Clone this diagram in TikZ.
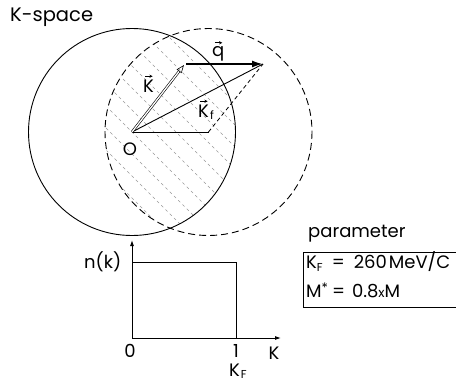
\documentclass[tikz,border=0pt]{standalone}
\usepackage{fontspec}
\setmainfont{Poppins}
\usetikzlibrary{arrows.meta}
\begin{document}
\begin{tikzpicture}[x=1pt,y=-1pt,
  txt/.style={font=\fontsize{18}{21}\selectfont, inner sep=0pt},
  subtxt/.style={font=\fontsize{11.5}{13}\selectfont, inner sep=0pt},
  circ/.style={line width=0.9pt},
  hatch/.style={black!40, line width=0.4pt, dash pattern=on 3pt off 3pt},
  vecar/.style={line width=0.7pt, -{Stealth[length=3.2pt,width=3.2pt]}},
  axis/.style={line width=0.9pt, -{Latex[length=6pt,width=4pt]}}]
\useasboundingbox (0,0) rectangle (456,383);
\coordinate (O) at (132,132);
\coordinate (P) at (208.5,132);
\coordinate (Kt) at (184,65);
\coordinate (Ks) at (186,64);
\coordinate (Qt) at (263,64);
% hatching of the lens
\begin{scope}
  \clip (O) circle (103.5);
  \clip (P) circle (103.5);
  \foreach \b in {-330,-308,...,230} \draw[hatch] (0,\b) -- (456,\b+456);
\end{scope}
\draw[circ] (O) circle (103.5);
\draw[circ, dash pattern=on 7pt off 4pt] (P) circle (103.5);
% vectors
\draw[line width=0.9pt] (O) -- (P);
\draw[line width=0.8pt, dash pattern=on 4pt off 3pt] (P) -- (Qt);
\draw[line width=0.9pt] (O) -- (Qt);
\draw[line width=1.8pt, -{Latex[length=11pt,width=7pt]}] (Ks) -- (Qt);
\draw[double, double distance=1.3pt, line width=0.6pt, -{Triangle[open,length=8pt,width=6pt]}] (O) -- (Kt);
% vector labels
\node[txt, anchor=base west] (Klab) at (143,92) {K};
\draw[vecar] ([xshift=-3.5pt,yshift=3pt]Klab.north) -- ([xshift=4pt,yshift=3pt]Klab.north);
\node[txt, anchor=base west] (qlab) at (212,56) {q};
\draw[vecar] ([xshift=-3.5pt,yshift=3pt]qlab.north) -- ([xshift=4pt,yshift=3pt]qlab.north);
\node[txt, anchor=base west] (Kflab) at (198,117) {K};
\draw[vecar] ([xshift=-3.5pt,yshift=3pt]Kflab.north) -- ([xshift=4pt,yshift=3pt]Kflab.north);
\node[subtxt, anchor=base west] (Kfsub) at ([xshift=0.8pt,yshift=-2pt]Kflab.base east) {f};
\node[txt, anchor=base] (Olab) at (130,155) {O};
\node[txt, anchor=base west, font=\fontsize{19.5}{22}\selectfont] (title) at (10,21) {K-space};
% n(k) graph
\coordinate (g0) at (132,338);
\coordinate (gy) at (132,240);
\coordinate (gx) at (281,338);
\coordinate (b1) at (132,262);
\coordinate (b2) at (236,262);
\coordinate (b3) at (236,338);
\draw[axis] (g0) -- (gy);
\draw[axis] (g0) -- (gx);
\draw[line width=0.9pt] (b1) -- (b2) -- (b3);
\node[txt, anchor=base west] (nk) at (84,268) {n(k)};
\node[txt, anchor=base] (zero) at (130,357) {0};
\node[txt, anchor=base] (one) at (236,357) {1};
\node[txt, anchor=base] (kax) at (274,359) {K};
\node[txt, anchor=base west] (kf) at (229,376) {K};
\node[subtxt, anchor=base west] (kfsub) at ([xshift=0.5pt,yshift=-2.5pt]kf.base east) {F};
% parameters
\node[txt, anchor=base west] (param) at (308,237) {parameter};
\node[draw, line width=0.9pt, anchor=north west, minimum width=160pt, minimum height=55pt, inner sep=0pt] (pbox) at (303,252) {};
\node[txt, anchor=base west] (p1) at (306,268) {K\raisebox{-3pt}{\fontsize{11.5}{13}\selectfont F}\hspace{9pt}=\hspace{9pt}260\hspace{2pt}MeV/C};
\node[txt, anchor=base west] (p2) at (306,297) {M\raisebox{5pt}{\fontsize{13}{13}\selectfont *}\hspace{4pt}=\hspace{7pt}0.8{\fontsize{13}{13}\selectfont x}M};
\end{tikzpicture}
\end{document}
